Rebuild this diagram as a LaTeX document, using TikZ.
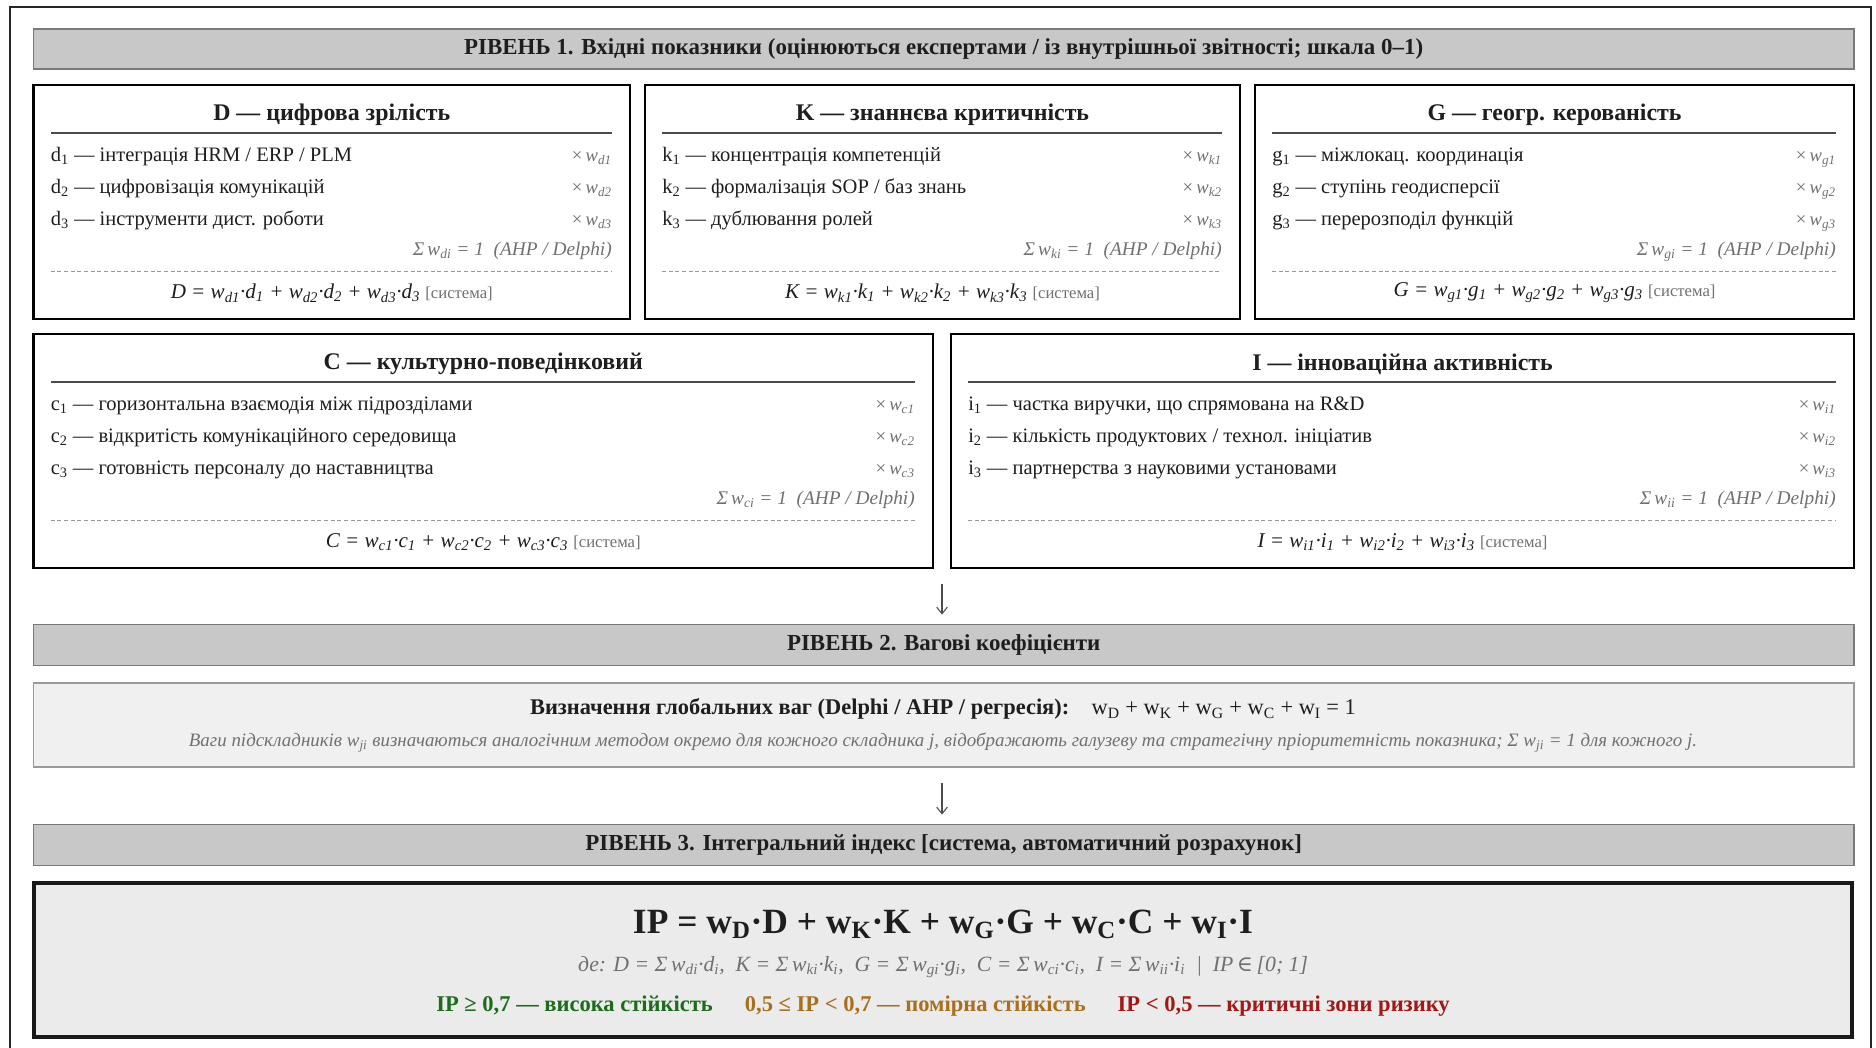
\documentclass[tikz,border=0pt]{standalone}
\usepackage{fontspec}
\setmainfont{Liberation Serif}
\newfontfamily\symfnt{DejaVu Serif}
\usetikzlibrary{arrows.meta}
\definecolor{hdrfill}{HTML}{C8C8C8}
\definecolor{hdrdraw}{HTML}{7A7A7A}
\definecolor{wbfill}{HTML}{F0F0F0}
\definecolor{wbdraw}{HTML}{9A9A9A}
\definecolor{ipfill}{HTML}{EBEBEB}
\definecolor{txt}{HTML}{1E1E1E}
\definecolor{wgray}{HTML}{707070}
\definecolor{okgreen}{HTML}{1E6B1E}
\definecolor{midorange}{HTML}{A8701E}
\definecolor{critred}{HTML}{A01818}
\newcommand\wv[1]{\textit{w}\textsubscript{\textit{#1}}}
\newcommand\fs[1]{\fontsize{#1pt}{#1pt}\selectfont}
\newcommand\CompBox[9]{%
  \pgfmathsetmacro\bw{(#3-#2)*0.75}%
  \pgfmathsetmacro\bcx{(#2+#3)/2}%
  \pgfmathsetmacro\bcy{#4+117}%
  \pgfmathsetmacro\lx{#2+17}%
  \pgfmathsetmacro\rx{#3-18}%
  \node[comp, minimum width=\bw pt, minimum height=175.5pt] (#1) at (\bcx,\bcy) {};
  \node[ttl] (#1-t) at (\bcx,#4+30) {#5};
  \draw[rulel] (\lx,#4+48) -- (\rx,#4+48);
  \node[item] (#1-1) at (\lx,#4+73) {#6};
  \node[item] (#1-2) at (\lx,#4+105) {#7};
  \node[item] (#1-3) at (\lx,#4+137) {#8};
  \node[wt] (#1-w1) at (\rx,#4+73) {×\,\wv{#91}};
  \node[wt] (#1-w2) at (\rx,#4+105) {×\,\wv{#92}};
  \node[wt] (#1-w3) at (\rx,#4+137) {×\,\wv{#93}};
  \node[sig] (#1-s) at (\rx,#4+167) {Σ\,\wv{#9i} = 1\enspace(AHP / Delphi)};
  \draw[dashl] (\lx,#4+186) -- (\rx,#4+186);
  \node[frm] (#1-f) at (\bcx,#4+208) {\itshape\MakeUppercase{#9} = \wv{#91}·#9\textsubscript{1} + \wv{#92}·#9\textsubscript{2} + \wv{#93}·#9\textsubscript{3} {\upshape\fs{12.5}\color{wgray}[система]}};
}
\begin{document}
\begin{tikzpicture}[x=0.75pt,y=-0.75pt,
  hdr/.style={fill=hdrfill, draw=hdrdraw, line width=1.1pt, inner sep=0, text=txt, font=\fs{17.2}\bfseries},
  comp/.style={draw=black, line width=2.2pt, fill=white, inner sep=0},
  ttl/.style={font=\fs{17.9}\bfseries, text=txt, inner sep=0},
  item/.style={anchor=west, font=\fs{15.4}, text=txt, inner sep=0, text height=1.6ex, text depth=.3ex},
  wt/.style={anchor=east, font=\fs{14}, text=wgray, inner sep=0, text height=1.6ex, text depth=.3ex},
  sig/.style={anchor=east, font=\fs{14.5}\itshape, text=wgray, inner sep=0, text height=1.6ex, text depth=.3ex},
  frm/.style={font=\fs{15.8}, text=txt, inner sep=0},
  rulel/.style={draw=black!70, line width=0.8pt},
  dashl/.style={draw=black!40, line width=0.7pt, dash pattern=on 3pt off 2pt},
  arr/.style={draw=black!70, line width=0.8pt, -{Straight Barb[length=5pt,width=8pt]}}
]
\useasboundingbox (0,0) rectangle (1876,1048);
\fill[white] (0,0) rectangle (1876,1048);
\draw[line width=1.8pt, draw=black!85] (10,1052) -- (10,7) -- (1871,7) -- (1871,1052);

% Level 1 header
\node[hdr, minimum width=1365.4pt, minimum height=30pt] (h1) at (943.7,49) {РІВЕНЬ 1. Вхідні показники (оцінюються експертами / із внутрішньої звітності; шкала 0–1)};

\CompBox{D}{33.5}{630}{85}{D — цифрова зрілість}{d\textsubscript{1} — інтеграція HRM / ERP / PLM}{d\textsubscript{2} — цифровізація комунікацій}{d\textsubscript{3} — інструменти дист. роботи}{d}
\CompBox{K}{645}{1240}{85}{K — знаннєва критичність}{k\textsubscript{1} — концентрація компетенцій}{k\textsubscript{2} — формалізація SOP / баз знань}{k\textsubscript{3} — дублювання ролей}{k}
\CompBox{G}{1255}{1854}{85}{G — геогр. керованість}{g\textsubscript{1} — міжлокац. координація}{g\textsubscript{2} — ступінь геодисперсії}{g\textsubscript{3} — перерозподіл функцій}{g}
\CompBox{C}{33.5}{933}{334}{C — культурно-поведінковий}{c\textsubscript{1} — горизонтальна взаємодія між підрозділами}{c\textsubscript{2} — відкритість комунікаційного середовища}{c\textsubscript{3} — готовність персоналу до наставництва}{c}
\CompBox{I}{951}{1854}{334}{I — інноваційна активність}{i\textsubscript{1} — частка виручки, що спрямована на R\&D}{i\textsubscript{2} — кількість продуктових / технол. ініціатив}{i\textsubscript{3} — партнерства з науковими установами}{i}

% Level 2
\node[hdr, minimum width=1365.4pt, minimum height=31pt] (h2) at (943.7,645) {РІВЕНЬ 2. Вагові коефіцієнти};
\coordinate (a1) at (942,568);
\draw[arr, shorten <=16pt*0.75, shorten >=9pt*0.75] (a1) -- (a1 |- h2.north);

\node[fill=wbfill, draw=wbdraw, line width=1.1pt, minimum width=1365.4pt, minimum height=63pt, inner sep=0] (wb) at (943.7,725) {};
\node[font=\fs{16.8}, text=txt, inner sep=0] (wb-1) at (943,709) {\bfseries Визначення глобальних ваг (Delphi / AHP / регресія):\quad\mdseries w\textsubscript{D} + w\textsubscript{K} + w\textsubscript{G} + w\textsubscript{C} + w\textsubscript{I} = 1};
\node[font=\fs{14.2}\itshape, text=wgray, inner sep=0] (wb-2) at (943,743) {Ваги підскладників \wv{ji} визначаються аналогічним методом окремо для кожного складника j, відображають галузеву та стратегічну пріоритетність показника; Σ \wv{ji} = 1 для кожного j.};

% Level 3
\node[hdr, minimum width=1365.4pt, minimum height=31pt] (h3) at (943.7,845) {РІВЕНЬ 3. Інтегральний індекс [система, автоматичний розрахунок]};
\coordinate (a2) at (942,767);
\draw[arr, shorten <=16pt*0.75, shorten >=9pt*0.75] (a2) -- (a2 |- h3.north);

\node[fill=ipfill, draw=black!90, line width=3pt, minimum width=1364pt, minimum height=115.5pt, inner sep=0] (ip) at (943,960) {};
\node[font=\fs{26.6}\bfseries, text=txt, inner sep=0] (ip-f) at (943,924) {IP = w\textsubscript{D}·D + w\textsubscript{K}·K + w\textsubscript{G}·G + w\textsubscript{C}·C + w\textsubscript{I}·I};
\node[font=\fs{16.3}\itshape, text=wgray, inner sep=0] (ip-d) at (943,967) {де: D = Σ\,\wv{di}·d\textsubscript{i},\enspace K = Σ\,\wv{ki}·k\textsubscript{i},\enspace G = Σ\,\wv{gi}·g\textsubscript{i},\enspace C = Σ\,\wv{ci}·c\textsubscript{i},\enspace I = Σ\,\wv{ii}·i\textsubscript{i}\enspace|\enspace IP\,{\symfnt\upshape ∈}\,[0; 1]};
\node[font=\fs{16.9}\bfseries, inner sep=0] (ip-z) at (943,1006) {{\color{okgreen}IP ≥ 0,7 — висока стійкість}\hspace{24pt}{\color{midorange}0,5 ≤ IP < 0,7 — помірна стійкість}\hspace{24pt}{\color{critred}IP < 0,5 — критичні зони ризику}};
\end{tikzpicture}
\end{document}
